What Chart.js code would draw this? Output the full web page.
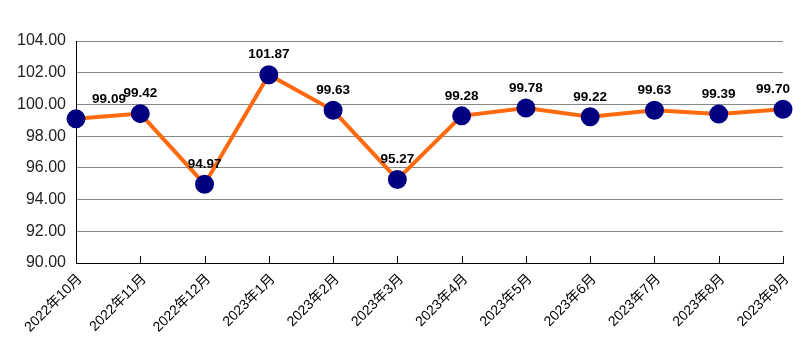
<!DOCTYPE html>
<html>
<head>
<meta charset="utf-8">
<script src="https://cdn.jsdelivr.net/npm/chart.js@4"></script>
<style>
    html, body { margin: 0; padding: 0; background: #fff; }
    #wrap { width: 810px; height: 363px; }
</style>
</head>
<body>
<div id="wrap"><canvas id="chart" width="810" height="363"></canvas></div>
<script>
// Chart data
const categories = ['2022年10月', '2022年11月', '2022年12月', '2023年1月', '2023年2月', '2023年3月',
    '2023年4月', '2023年5月', '2023年6月', '2023年7月', '2023年8月', '2023年9月'];
const indexValues = [99.09, 99.42, 94.97, 101.87, 99.63, 95.27, 99.28, 99.78, 99.22, 99.63, 99.39, 99.70];
const yMin = 90;
const yMax = 104;
const yStep = 2;

// Value labels above each point
const valueLabels = {
    id: 'valueLabels',
    afterDatasetsDraw(chart) {
        const ctx = chart.ctx;
        const meta = chart.getDatasetMeta(0);
        ctx.save();
        ctx.font = 'bold 13.5px "Liberation Sans", Arial, sans-serif';
        ctx.fillStyle = '#000';
        ctx.textAlign = 'center';
        ctx.textBaseline = 'middle';
        meta.data.forEach((pt, i) => {
            let dx = 0;
            if (i === 0) dx = 33;
            if (i === meta.data.length - 1) dx = -10;
            ctx.fillText(indexValues[i].toFixed(2), pt.x + dx, pt.y - 20);
        });
        ctx.restore();
    }
};

// Short inward tick marks on the category axis
const innerTicks = {
    id: 'innerTicks',
    afterDraw(chart) {
        const ctx = chart.ctx;
        const xScale = chart.scales.x;
        const bottom = chart.chartArea.bottom;
        ctx.save();
        ctx.strokeStyle = '#000';
        ctx.lineWidth = 1;
        categories.forEach((c, i) => {
            const x = Math.round(xScale.getPixelForValue(i)) + 0.5;
            ctx.beginPath();
            ctx.moveTo(x, bottom);
            ctx.lineTo(x, bottom - 7);
            ctx.stroke();
        });
        ctx.restore();
    }
};

new Chart(document.getElementById('chart'), {
    type: 'line',
    data: {
        labels: categories,
        datasets: [{
            data: indexValues,
            borderColor: '#FF6A0E',
            borderWidth: 4,
            pointBackgroundColor: '#000080',
            pointBorderColor: '#000080',
            pointRadius: 7.5,
            pointHoverRadius: 7.5,
            tension: 0
        }]
    },
    options: {
        responsive: false,
        animation: false,
        layout: { padding: { top: 41, right: 27, left: 0, bottom: 0 } },
        plugins: {
            legend: { display: false },
            tooltip: { enabled: false }
        },
        scales: {
            x: {
                offset: false,
                grid: { display: false, drawTicks: false },
                border: { color: '#000', width: 1 },
                ticks: {
                    autoSkip: false,
                    minRotation: 45,
                    maxRotation: 45,
                    padding: 8,
                    labelOffset: 4,
                    color: '#000',
                    font: { family: '"Liberation Sans", Arial, "Noto Sans CJK SC", sans-serif', size: 14 }
                },
                afterFit(scale) { scale.height = 100; }
            },
            y: {
                min: yMin,
                max: yMax,
                grid: { color: '#888', drawTicks: false },
                border: { color: '#000', width: 1 },
                ticks: {
                    stepSize: yStep,
                    padding: 10,
                    color: '#222',
                    font: { family: '"Liberation Sans", Arial, sans-serif', size: 16 },
                    callback: v => v.toFixed(2)
                },
                afterFit(scale) { scale.width = 76; }
            }
        }
    },
    plugins: [valueLabels, innerTicks]
});
</script>
</body>
</html>
